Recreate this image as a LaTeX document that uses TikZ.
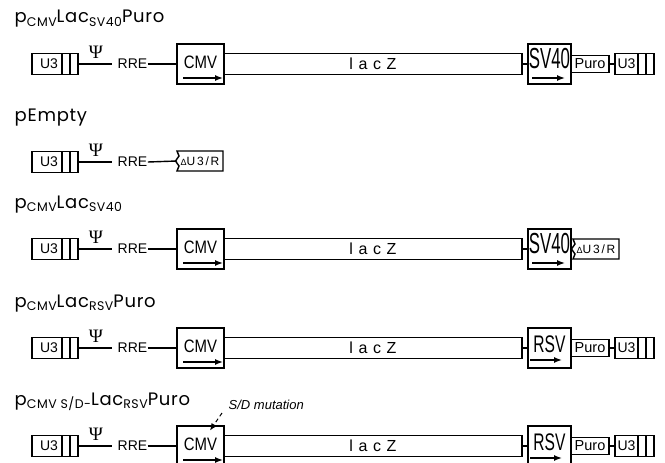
\documentclass[tikz,border=0pt]{standalone}
\usepackage{fontspec}
\usepackage{graphicx}
\setmainfont{Liberation Sans}
\newfontfamily\titlefont[LetterSpace=4]{Poppins}
\newfontfamily\psifont{Liberation Serif}
\newfontfamily\spacedfont[LetterSpace=35]{Liberation Sans}
\newfontfamily\dltrfont[LetterSpace=15]{Liberation Sans}
\usepackage{tikz}
\usetikzlibrary{arrows.meta,positioning}
\newcommand{\setfs}[1]{\fontsize{#1}{#1}\selectfont}
\newcommand{\subtxt}[1]{\raisebox{-3.5pt}{\setfs{12.5}#1}}

\begin{document}
\begin{tikzpicture}[
  x=1pt,y=-1pt,
  line width=1.4pt,
  ttl/.style={font=\titlefont\setfs{18},anchor=base west,inner sep=0pt},
  ltr/.style={draw,minimum width=#1,minimum height=21pt,inner sep=0pt,outer sep=0pt,
              font=\setfs{14},
              path picture={\draw
                ([xshift=-8pt]path picture bounding box.north east) -- ([xshift=-8pt]path picture bounding box.south east)
                ([xshift=-16pt]path picture bounding box.north east) -- ([xshift=-16pt]path picture bounding box.south east);}},
  dltr/.style={minimum width=46pt,minimum height=20pt,inner sep=0pt,outer sep=0pt,
               font=\dltrfont\setfs{12}},
  promo/.style={draw,minimum width=#1,minimum height=40pt,inner sep=0pt,outer sep=0pt},
  promtxt/.style={anchor=base,inner sep=0pt},
  gene/.style={draw,minimum width=298pt,minimum height=21pt,inner sep=0pt,outer sep=0pt,
               font=\spacedfont\setfs{16}},
  resist/.style={draw,minimum width=38pt,minimum height=17pt,inner sep=0pt,outer sep=0pt,
                 font=\setfs{14.5}},
  psi/.style={inner sep=0pt,font=\psifont\setfs{19}},
  rre/.style={inner sep=0pt,font=\setfs{14}},
  txarrow/.style={-{Latex[length=8pt,width=6pt]},line width=1.4pt},
]
\useasboundingbox (0,0) rectangle (665,463);

%% ── pCMV Lac SV40 Puro ───────────────────────────────────────────────────────
\node[ttl] (t1) at (14,23) {p\subtxt{CMV}Lac\subtxt{SV40}Puro};
\node[ltr=46pt] (u3a1) at (55,64) {U3\kern12pt};
\node[psi] (psi1) at (96,52) {Ψ};
\node[rre] (rre1) at (132.5,64) {RRE};
\node[promo=47pt] (cmv1) at (200.5,64) {};
\node[promtxt,font=\setfs{18}] (cmv1t) at ([yshift=-4pt]cmv1.center) {\scalebox{0.83}[1]{CMV}};
\draw[txarrow] ([xshift=6pt,yshift=6pt]cmv1.south west) -- ([xshift=-1pt,yshift=6pt]cmv1.south east);
\node[gene,right=0pt of cmv1] (lacz1) {lacZ};
\node[promo=43pt,right=6pt of lacz1] (sv1) {};
\node[promtxt,font=\setfs{29}] (sv1t) at ([yshift=-4pt]sv1.center) {\scalebox{0.58}[1]{SV40}};
\draw[txarrow] ([xshift=4pt,yshift=6pt]sv1.south west) -- ([xshift=-6pt,yshift=6pt]sv1.south east);
\node[resist,right=0pt of sv1] (puro1) {Puro};
\node[ltr=39pt,right=6pt of puro1] (u3b1) {U3\kern16pt};

\draw (u3a1.east) -- ([xshift=-5pt]rre1.west);
\draw (rre1.east) -- (cmv1.west);
\draw (lacz1.east) -- (sv1.west);
\draw (puro1.east) -- (u3b1.west);

%% ── pEmpty ───────────────────────────────────────────────────────────────────
\node[ttl] (t2) at (14,121) {pEmpty};
\node[ltr=46pt] (u3a2) at (55,162) {U3\kern12pt};
\node[psi] (psi2) at (96,150) {Ψ};
\node[rre] (rre2) at (132.5,162) {RRE};
\node[dltr] (dl2) at (200,161) {{\setfs{9}Δ}U3/R};
\draw (dl2.north west) -- (dl2.north east) -- (dl2.south east) -- (dl2.south west)
  -- ([xshift=2pt,yshift=5pt]dl2.south west) -- ([xshift=-1.5pt]dl2.west)
  -- ([xshift=2pt,yshift=-5pt]dl2.north west) -- cycle;

\draw (u3a2.east) -- ([xshift=-5pt]rre2.west);
\draw (rre2.east) -- (dl2.west);

%% ── pCMV Lac SV40 ────────────────────────────────────────────────────────────
\node[ttl] (t3) at (14,208) {p\subtxt{CMV}Lac\subtxt{SV40}};
\node[ltr=46pt] (u3a3) at (55,249) {U3\kern12pt};
\node[psi] (psi3) at (96,237) {Ψ};
\node[rre] (rre3) at (132.5,249) {RRE};
\node[promo=47pt] (cmv3) at (200.5,249) {};
\node[promtxt,font=\setfs{18}] (cmv3t) at ([yshift=-4pt]cmv3.center) {\scalebox{0.83}[1]{CMV}};
\draw[txarrow] ([xshift=6pt,yshift=6pt]cmv3.south west) -- ([xshift=-1pt,yshift=6pt]cmv3.south east);
\node[gene,right=0pt of cmv3] (lacz3) {lacZ};
\node[promo=43pt,right=6pt of lacz3] (sv3) {};
\node[promtxt,font=\setfs{29}] (sv3t) at ([yshift=-4pt]sv3.center) {\scalebox{0.58}[1]{SV40}};
\draw[txarrow] ([xshift=4pt,yshift=6pt]sv3.south west) -- ([xshift=-6pt,yshift=6pt]sv3.south east);
\node[dltr,right=2pt of sv3] (dl3) {{\setfs{9}Δ}U3/R};
\draw (dl3.north west) -- (dl3.north east) -- (dl3.south east) -- (dl3.south west)
  -- ([xshift=2pt,yshift=5pt]dl3.south west) -- ([xshift=-1.5pt]dl3.west)
  -- ([xshift=2pt,yshift=-5pt]dl3.north west) -- cycle;

\draw (u3a3.east) -- ([xshift=-5pt]rre3.west);
\draw (rre3.east) -- (cmv3.west);
\draw (lacz3.east) -- (sv3.west);

%% ── pCMV Lac RSV Puro ────────────────────────────────────────────────────────
\node[ttl] (t4) at (14,307) {p\subtxt{CMV}Lac\subtxt{RSV}Puro};
\node[ltr=46pt] (u3a4) at (55,348) {U3\kern12pt};
\node[psi] (psi4) at (96,336) {Ψ};
\node[rre] (rre4) at (132.5,348) {RRE};
\node[promo=47pt] (cmv4) at (200.5,348) {};
\node[promtxt,font=\setfs{18}] (cmv4t) at ([yshift=-4pt]cmv4.center) {\scalebox{0.83}[1]{CMV}};
\draw[txarrow] ([xshift=6pt,yshift=6pt]cmv4.south west) -- ([xshift=-1pt,yshift=6pt]cmv4.south east);
\node[gene,right=0pt of cmv4] (lacz4) {lacZ};
\node[promo=43pt,right=6pt of lacz4] (rsv4) {};
\node[promtxt,font=\setfs{24}] (rsv4t) at ([yshift=-4pt]rsv4.center) {\scalebox{0.65}[1]{RSV}};
\draw[txarrow] ([xshift=2pt,yshift=8pt]rsv4.south west) -- ([xshift=-9pt,yshift=8pt]rsv4.south east);
\node[resist,right=0pt of rsv4] (puro4) {Puro};
\node[ltr=39pt,right=6pt of puro4] (u3b4) {U3\kern16pt};

\draw (u3a4.east) -- ([xshift=-5pt]rre4.west);
\draw (rre4.east) -- (cmv4.west);
\draw (lacz4.east) -- (rsv4.west);
\draw (puro4.east) -- (u3b4.west);

%% ── pCMV S/D- Lac RSV Puro ───────────────────────────────────────────────────
\node[ttl] (t5) at (14,405) {p\subtxt{CMV S/D-}Lac\subtxt{RSV}Puro};
\node[ltr=46pt] (u3a5) at (55,446) {U3\kern12pt};
\node[psi] (psi5) at (96,434) {Ψ};
\node[rre] (rre5) at (132.5,446) {RRE};
\node[promo=47pt] (cmv5) at (200.5,446) {};
\node[promtxt,font=\setfs{18}] (cmv5t) at ([yshift=-4pt]cmv5.center) {\scalebox{0.83}[1]{CMV}};
\draw[txarrow] ([xshift=6pt,yshift=6pt]cmv5.south west) -- ([xshift=-1pt,yshift=6pt]cmv5.south east);
\node[gene,right=0pt of cmv5] (lacz5) {lacZ};
\node[promo=43pt,right=6pt of lacz5] (rsv5) {};
\node[promtxt,font=\setfs{24}] (rsv5t) at ([yshift=-4pt]rsv5.center) {\scalebox{0.65}[1]{RSV}};
\draw[txarrow] ([xshift=2pt,yshift=8pt]rsv5.south west) -- ([xshift=-9pt,yshift=8pt]rsv5.south east);
\node[resist,right=0pt of rsv5] (puro5) {Puro};
\node[ltr=39pt,right=6pt of puro5] (u3b5) {U3\kern16pt};

\draw (u3a5.east) -- ([xshift=-5pt]rre5.west);
\draw (rre5.east) -- (cmv5.west);
\draw (lacz5.east) -- (rsv5.west);
\draw (puro5.east) -- (u3b5.west);

%% S/D mutation mark
\node[font=\itshape\setfs{13},anchor=base west,inner sep=0pt] (sd5) at (228,409) {S/D mutation};
\draw[line width=1pt,dash pattern=on 4pt off 3pt,-{Latex[length=7pt,width=6pt]}]
  ([xshift=-6pt,yshift=-4pt]sd5.base west) -- ([xshift=9.5pt,yshift=-4.5pt]cmv5.north);

\end{tikzpicture}
\end{document}
